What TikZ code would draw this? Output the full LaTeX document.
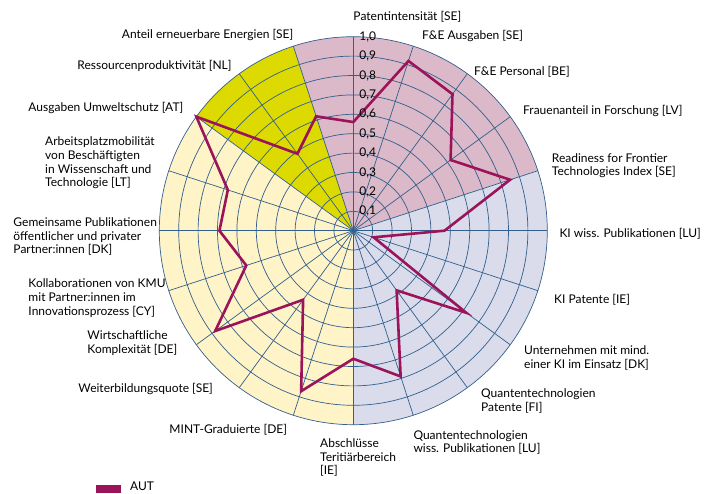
\documentclass[tikz,border=0pt]{standalone}
\usepackage{fontspec}
\setmainfont{Lato}
\usetikzlibrary{positioning}

\definecolor{pinkfill}{HTML}{DCB9C8}
\definecolor{olivefill}{HTML}{DCDA00}
\definecolor{beigefill}{HTML}{FFF3C8}
\definecolor{lavfill}{HTML}{DADCEC}
\definecolor{gridblue}{HTML}{325F8C}
\definecolor{autred}{HTML}{9B145A}

\tikzset{
  gridline/.style={gridblue, line width=.7pt},
  autline/.style={autred, line width=2.6pt, line join=miter},
  axislabel/.style={anchor=west, inner sep=0pt, align=left, font=\fontsize{12}{13.7}\selectfont},
  ticklabel/.style={anchor=west, inner sep=0pt, font=\fontsize{12}{12}\selectfont},
  legendlabel/.style={anchor=west, inner sep=0pt, font=\fontsize{12}{12}\selectfont},
}

\begin{document}
\begin{tikzpicture}[x=1pt, y=1pt]
          \useasboundingbox (-353.3,-262.3) rectangle (353.7,230.7);
          \def\R{194}
          \fill [pinkfill] (0,0) -- (18:\R) arc [start angle=18, end angle=108, radius=\R] -- cycle;
          \fill [olivefill] (0,0) -- (108:\R) arc [start angle=108, end angle=144, radius=\R] -- cycle;
          \fill [beigefill] (0,0) -- (144:\R) arc [start angle=144, end angle=270, radius=\R] -- cycle;
          \fill [lavfill] (0,0) -- (270:\R) arc [start angle=270, end angle=378, radius=\R] -- cycle;
          \foreach \r in {1,...,10}{
            \draw [gridline] (0,0) circle ({\r*\R/10});
          }
          \foreach \a in {0,18,...,342}{
            \draw [gridline] (0,0) -- (\a:\R);
          }
          % AUT values, clockwise from the top
          \foreach \v [count=\i from 0] in {.56,.92,.87,.62,.85,.47,.11,.72,.38,.79,.66,.87,.44,.88,.58,.69,.68,1,.49,.62}{
            \coordinate (p\i) at ({90-18*\i}:{\v*\R});
          }
          \draw [autline] (p0) \foreach \i in {1,...,19}{ -- (p\i)} -- cycle;
          \foreach \r/\t in {1/0{,}1,2/0{,}2,3/0{,}3,4/0{,}4,5/0{,}5,6/0{,}6,7/0{,}7,8/0{,}8,9/0{,}9,10/1{,}0}{
            \node [ticklabel] (tick\r) at (6,{\r*\R/10}) {\t};
          }
          \node [axislabel] (patent) at (0,213.7) {Patentintensität [SE]};
          \node [axislabel] (fueaus) at (68.7,194.7) {F\&E Ausgaben [SE]};
          \node [axislabel] (fuepers) at (120.7,158.7) {F\&E Personal [BE]};
          \node [axislabel] (frauen) at (169.7,119.7) {Frauenanteil in Forschung [LV]};
          \node [axislabel] (readiness) at (198.4,64.9) {Readiness for Frontier\\Technologies Index [SE]};
          \node [axislabel] (kipub) at (206,-3.3) {KI wiss. Publikationen [LU]};
          \node [axislabel] (kipat) at (200.7,-69.3) {KI Patente [IE]};
          \node [axislabel] (kiunt) at (170.7,-127) {Unternehmen mit mind.\\einer KI im Einsatz [DK]};
          \node [axislabel] (qpat) at (127.7,-170.3) {Quantentechnologien\\Patente [FI]};
          \node [axislabel] (qpub) at (60,-211.8) {Quantentechnologien\\wiss. Publikationen [LU]};
          \node [axislabel] (abschl) at (-33.3,-227) {Abschlüsse\\Teritiärbereich\\{}[IE]};
          \node [axislabel] (mint) at (-184,-199.3) {MINT-Graduierte [DE]};
          \node [axislabel] (weiter) at (-275,-158.6) {Weiterbildungsquote [SE]};
          \node [axislabel] (wirtsch) at (-266,-112.6) {Wirtschaftliche\\Komplexität [DE]};
          \node [axislabel] (kollab) at (-325,-67.3) {Kollaborationen von KMU\\mit Partner:innen im\\Innovationsprozess [CY]};
          \node [axislabel] (gemein) at (-340,-5.8) {Gemeinsame Publikationen\\öffentlicher und privater\\Partner:innen [DK]};
          \node [axislabel] (mobil) at (-308.3,67.7) {Arbeitsplatzmobilität\\von Beschäftigten\\in Wissenschaft und\\Technologie [LT]};
          \node [axislabel] (umwelt) at (-325,122.4) {Ausgaben Umweltschutz [AT]};
          \node [axislabel] (ressourcen) at (-276,164.7) {Ressourcenproduktivität [NL]};
          \node [axislabel] (anteil) at (-231.6,195.7) {Anteil erneuerbare Energien [SE]};
          % legend
          \fill [autred] (-257.3,-262.3) rectangle (-232.6,-254.3) coordinate (legbox);
          \node [legendlabel, right=9.3pt of legbox, yshift=-1.5pt] (legaut) {AUT};
        \end{tikzpicture}
\end{document}
